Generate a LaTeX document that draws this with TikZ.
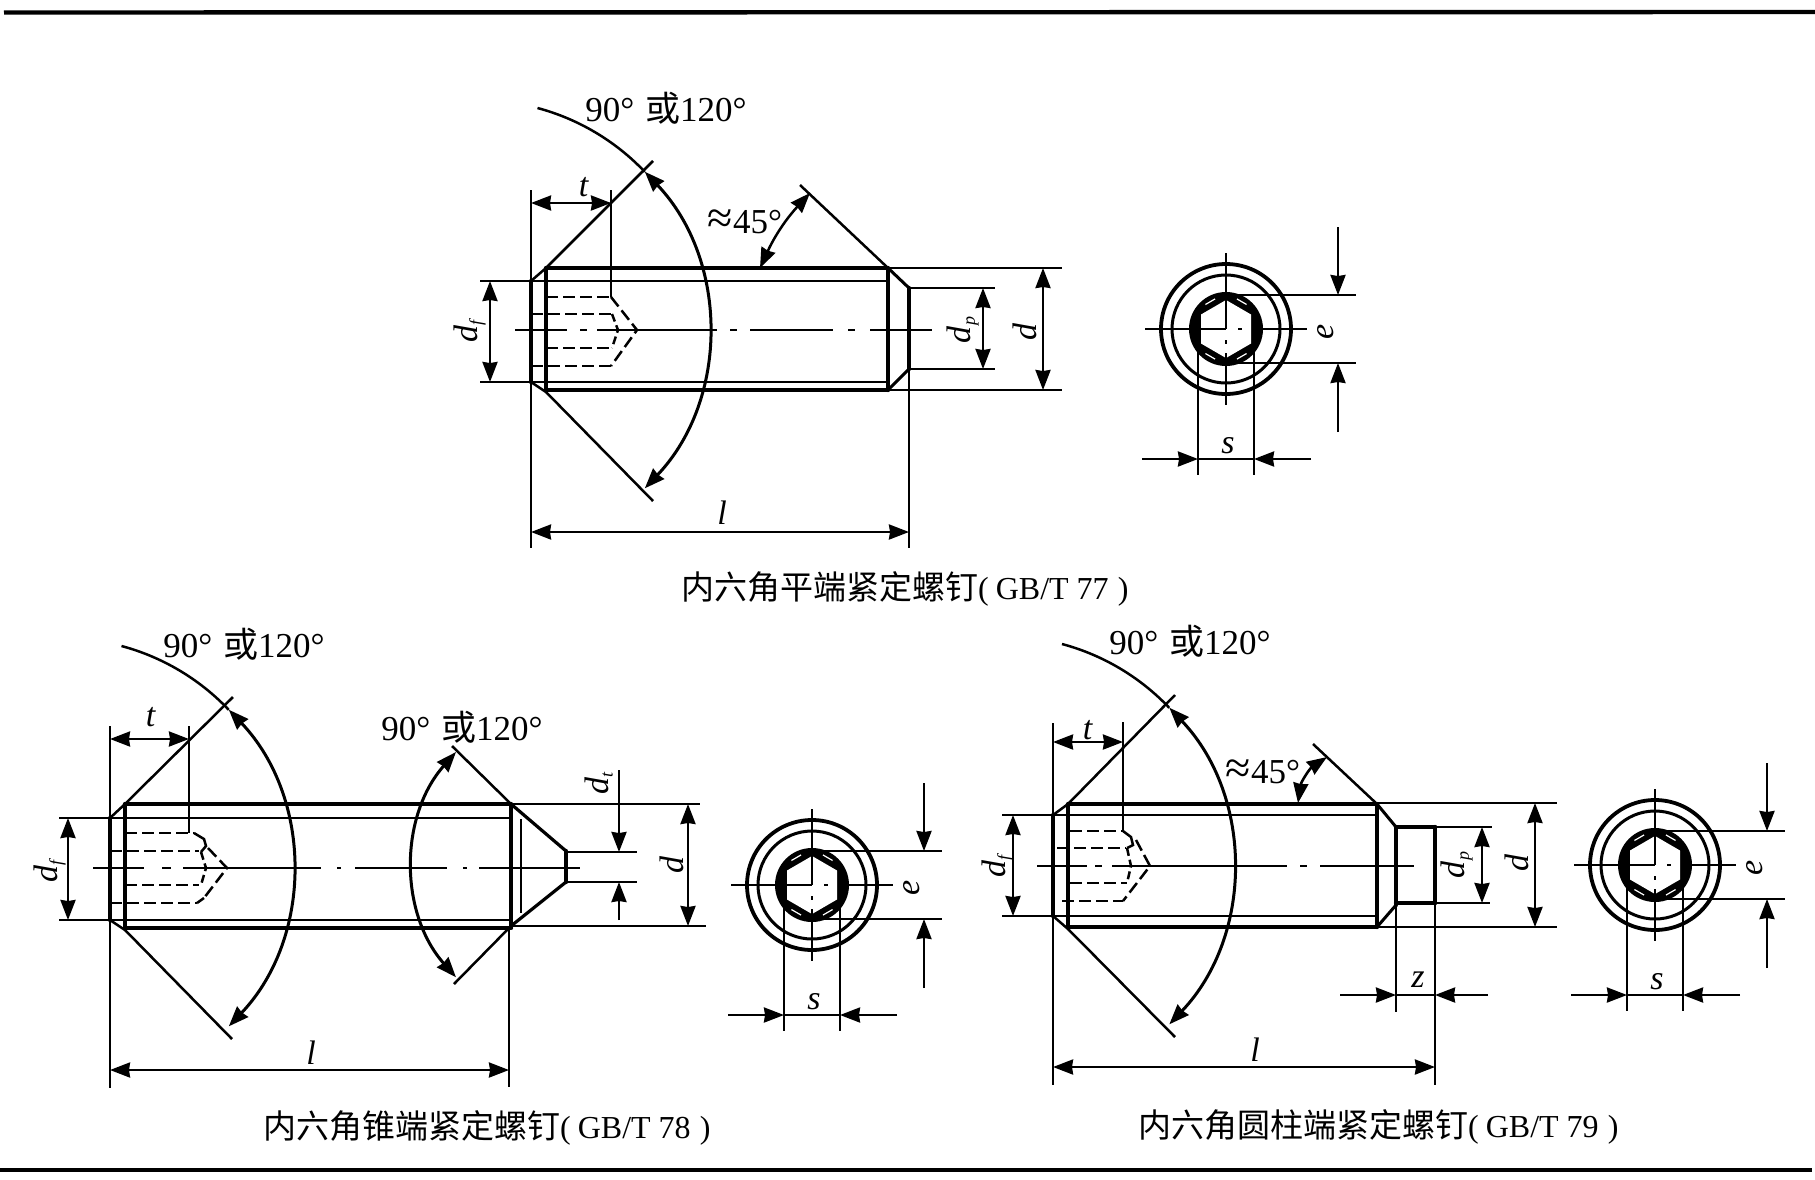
\documentclass[tikz,border=0pt]{standalone}
\usepackage{fontspec}
\setmainfont{Liberation Serif}
\newfontfamily\cjk{Noto Sans CJK SC}
\usetikzlibrary{arrows.meta}
\newcommand{\dsub}[1]{\textit{d}\raisebox{-4pt}{\fontsize{18}{18}\selectfont\textit{#1}}}
\newcommand{\angtxt}{90°\hspace{2pt} {\cjk 或}120°}
\newcommand{\apptxt}{{\fontsize{46}{46}\selectfont ≈}45°}
\newcommand{\capt}[2]{{\fontsize{33}{33}\selectfont\cjk #1}(\hspace{7pt}GB/T #2\hspace{9pt})}
\tikzset{
  x=1pt,y=-1pt,
  thinl/.style={line width=2.5pt,black},
  bold/.style={line width=4.4pt,black,line cap=round},
  hid/.style={line width=2.5pt,black,dash pattern=on 12pt off 5pt},
  rule/.style={line width=4.4pt,black},
  dimboth/.style={thinl,{Stealth[inset=1pt,length=20pt,width=15pt]}-{Stealth[inset=1pt,length=20pt,width=15pt]}},
  dimin/.style={thinl,-{Stealth[inset=1pt,length=20pt,width=15pt]}},
  lab/.style={font=\fontsize{34}{34}\selectfont,inner sep=0pt},
  anglab/.style={font=\fontsize{35}{35}\selectfont,inner sep=0pt},
  caption/.style={font=\fontsize{32}{32}\selectfont,inner sep=0pt,anchor=west},
}
% large arc centred on (#1,#2), with its plain tail and double arrow
\newcommand{\bigarc}[2]{%
  \draw[thinl] ({#1+59.5},{#2-222}) arc[start angle=75,end angle=43.5,radius=230pt];
  \draw[dimboth,line width=3pt] ({#1+166.8},{#2-158.3}) arc[start angle=43.5,end angle=-43.5,radius=230pt];
}
% end view: centre (#1,#2); #3 name suffix for labels
\newcommand{\headview}[3]{%
  \draw[line width=3.8pt] (#1,#2) circle[radius=65pt];
  \draw[line width=3pt] (#1,#2) circle[radius=54pt];
  \fill[black] (#1,#2) circle[radius=37pt];
  \fill[white] ({#1},{#2-29}) -- ({#1+25},{#2-14.5}) -- ({#1+25},{#2+14.5}) -- ({#1},{#2+29}) -- ({#1-25},{#2+14.5}) -- ({#1-25},{#2-14.5}) -- cycle;
  \foreach \a in {60,120,240,300}{\draw[white,line width=1.2pt] ({#1+32*cos(\a-10)},{#2-32*sin(\a-10)}) -- ({#1+32*cos(\a+10)},{#2-32*sin(\a+10)});}
  \draw[thinl] ({#1-81},#2) -- (#1,#2) ({#1+12},#2) -- ({#1+16},#2) ({#1+26},#2) -- ({#1+81},#2);
  \draw[thinl] (#1,{#2-76}) -- (#1,#2) (#1,{#2+11}) -- (#1,{#2+15}) (#1,{#2+24}) -- (#1,{#2+76});
  \draw[thinl] (#1,{#2-34}) -- ({#1+130},{#2-34}) (#1,{#2+34}) -- ({#1+130},{#2+34});
  \draw[dimin] ({#1+112},{#2-102}) -- ({#1+112},{#2-34});
  \draw[dimin] ({#1+112},{#2+103}) -- ({#1+112},{#2+34});
  \draw[thinl] ({#1-28},{#2+21}) -- ({#1-28},{#2+146}) ({#1+28},{#2+21}) -- ({#1+28},{#2+146});
  \draw[thinl] ({#1-28},{#2+130}) -- ({#1+28},{#2+130});
  \draw[dimin] ({#1-84},{#2+130}) -- ({#1-28},{#2+130});
  \draw[dimin] ({#1+85},{#2+130}) -- ({#1+28},{#2+130});
  \node[lab,rotate=90] (e#3) at ({#1+100},{#2+3}) {\textit{e}};
  \node[lab] (s#3) at ({#1+2},{#2+117}) {\textit{s}};
}
\begin{document}
\begin{tikzpicture}
\useasboundingbox (0,0) rectangle (1815,1179);
\fill[white] (0,0) rectangle (1815,1179);
\coordinate (ruleTL) at (4,12.5);
\coordinate (ruleTR) at (1815,12);
\coordinate (ruleBL) at (0,1170);
\coordinate (ruleBR) at (1812,1170);
\draw[rule] (ruleTL) -- (ruleTR);
\draw[rule] (ruleBL) -- (ruleBR);

%% ---------- top screw (GB/T 77)
\draw[thinl] (531,190) -- (531,548);
\draw[thinl] (653,161) -- (546,268) -- (531,281);
\draw[thinl] (653,501) -- (546,392) -- (531,382);
\draw[thinl] (480,281) -- (888,281) (480,382) -- (888,382);
\draw[bold] (531,281) -- (531,382);
\draw[bold] (546,268) -- (546,390) (546,268) -- (888,268) (546,390) -- (888,390) (888,268) -- (888,390);
\draw[line width=3pt] (888,268) -- (909,288) (888,390) -- (909,369);
\draw[bold] (909,288) -- (909,369);
\draw[thinl] (909,369) -- (909,548);
\draw[thinl] (888,268) -- (1062,268) (888,390) -- (1062,390);
\draw[thinl] (909,288) -- (995,288) (909,369) -- (995,369);
\foreach \a/\b in {515/567,580/587,597/717,730/737,750/833,848/855,870/932}{\draw[thinl] (\a,330) -- (\b,330);}
\draw[hid] (546,297) -- (611,297) (531,314) -- (611,314) (546,348) -- (611,348) (531,366) -- (611,366);
\draw[hid] (611,297) -- (637,330) -- (611,366);
\draw[hid,dash pattern=on 8pt off 4pt] (612,314) -- (618,330) -- (612,348);
\draw[thinl] (611,190) -- (611,297);
\bigarc{478}{330}
\draw[dimboth] (531,203) -- (611,203);
\draw[dimboth] (490,281) -- (490,382);
\draw[dimboth] (983,288) -- (983,369);
\draw[dimboth] (1043,268) -- (1043,390);
\draw[dimboth] (531,532) -- (909,532);
\draw[dimboth] (810,193) to[bend right=9] (760,268);
\draw[thinl] (888,268) -- (800,185);
\node[anglab] (angA) at (666,108) {\angtxt};
\node[anglab] (appA) at (745,222) {\apptxt};
\node[lab] (tA) at (584,187) {\textit{t}};
\node[lab] (lA) at (722,513) {\textit{l}};
\node[lab,rotate=90] (dfA) at (470,330) {\dsub{f}};
\node[lab,rotate=90] (dpA) at (963,330) {\dsub{p}};
\node[lab,rotate=90] (dA) at (1025,332) {\textit{d}};
\headview{1226}{329}{A}
\node[caption] (capA) at (681,589) {\capt{内六角平端紧定螺钉}{77}};

%% ---------- bottom-left screw (GB/T 78)
\draw[thinl] (110,726) -- (110,1088);
\draw[thinl] (233,697) -- (125,804) -- (110,818);
\draw[thinl] (232,1039) -- (125,930) -- (110,920);
\draw[thinl] (59,818) -- (509,818) (59,920) -- (509,920);
\draw[bold] (110,818) -- (110,920);
\draw[bold] (125,804) -- (125,928) (125,804) -- (511,804) (125,928) -- (511,928) (511,804) -- (511,926);
\draw[line width=3.2pt] (511,804) -- (566,851) (511,926) -- (566,882);
\draw[bold] (566,851) -- (566,882);
\draw[thinl] (511,804) -- (700,804) (511,926) -- (706,926);
\draw[thinl] (521,819) -- (521,913);
\draw[thinl] (566,852) -- (637,852) (566,882) -- (637,882);
\draw[thinl] (509,926) -- (509,1087);
\foreach \a/\b in {93/144,162/171,183/321,337/341,355/447,463/467,479/580}{\draw[thinl] (\a,868) -- (\b,868);}
\draw[hid] (125,833) -- (194,833) (110,851) -- (199,851) (125,885) -- (199,885) (110,903) -- (197,903);
\draw[thinl] (194,833) -- (204,839) -- (206,846) -- (201,852);
\draw[hid] (208,848) -- (227,868) -- (204,898) (204,898) -- (197,903);
\draw[hid,dash pattern=on 8pt off 4pt] (201,852) -- (206,868) -- (201,885);
\draw[thinl] (189,726) -- (189,833);
\bigarc{62}{868}
\draw[dimboth] (110,739) -- (189,739);
\draw[dimboth] (68,818) -- (68,920);
\draw[dimboth] (688,804) -- (688,926);
\draw[dimboth] (110,1070) -- (509,1070);
\draw[dimin] (619,770) -- (619,852);
\draw[dimin] (619,920) -- (619,882);
\draw[thinl] (511,804) -- (452,746);
\draw[thinl] (511,926) -- (454,984);
\draw[dimboth,line width=3pt] (456,752) arc[start angle=138.5,end angle=221.5,radius=170pt];
\node[anglab] (angB) at (244,644) {\angtxt};
\node[anglab] (angC) at (462,727) {\angtxt};
\node[lab] (tB) at (151,717) {\textit{t}};
\node[lab] (lB) at (311,1053) {\textit{l}};
\node[lab,rotate=90] (dfB) at (50,870) {\dsub{f}};
\node[lab,rotate=90] (dtB) at (599,783) {\dsub{t}};
\node[lab,rotate=90] (dB) at (672,865) {\textit{d}};
\headview{812}{885}{B}
\node[caption] (capB) at (263,1128) {\capt{内六角锥端紧定螺钉}{78}};

%% ---------- bottom-right screw (GB/T 79)
\draw[thinl] (1053,723) -- (1053,1085);
\draw[thinl] (1175,695) -- (1068,804) -- (1053,815);
\draw[thinl] (1175,1037) -- (1068,929) -- (1053,916);
\draw[thinl] (1002,815) -- (1377,815) (1002,916) -- (1377,916);
\draw[bold] (1053,815) -- (1053,916);
\draw[bold] (1068,804) -- (1068,927) (1068,804) -- (1377,804) (1068,927) -- (1377,927) (1377,804) -- (1377,927);
\draw[line width=3pt] (1377,804) -- (1396,827) (1377,927) -- (1396,905);
\draw[bold] (1396,827) -- (1396,905) (1396,827) -- (1435,827) (1396,903) -- (1435,903);
\draw[thinl] (1396,905) -- (1396,1012);
\draw[bold] (1435,827) -- (1435,903);
\draw[thinl] (1435,903) -- (1435,1085);
\draw[thinl] (1435,827) -- (1492,827) (1435,903) -- (1490,903);
\draw[thinl] (1377,803) -- (1557,803) (1377,927) -- (1557,927);
\foreach \a/\b in {1037/1087,1095/1102,1112/1287,1300/1307,1320/1414}{\draw[thinl] (\a,866) -- (\b,866);}
\draw[hid] (1070,831) -- (1123,831) (1057,848) -- (1126,848) (1070,883) -- (1127,883) (1062,901) -- (1123,901);
\draw[thinl] (1123,831) -- (1131,837) -- (1133,845) -- (1127,848);
\draw[hid] (1136,840) -- (1150,866) -- (1123,901);
\draw[hid,dash pattern=on 8pt off 4pt] (1127,848) -- (1131,866) -- (1127,883);
\draw[thinl] (1123,722) -- (1123,831);
\bigarc{1002.5}{866}
\draw[dimboth] (1053,742) -- (1123,742);
\draw[dimboth] (1013,815) -- (1013,916);
\draw[dimboth] (1482,827) -- (1482,903);
\draw[dimboth] (1535,803) -- (1535,927);
\draw[dimboth] (1053,1067) -- (1435,1067);
\draw[thinl] (1396,995) -- (1435,995);
\draw[dimin] (1340,995) -- (1396,995);
\draw[dimin] (1488,995) -- (1435,995);
\draw[thinl] (1377,804) -- (1313,744);
\draw[dimboth,line width=2.6pt] (1327,757) to[bend right=24] (1298,803);
\node[anglab] (angD) at (1190,641) {\angtxt};
\node[anglab] (appD) at (1263,772) {\apptxt};
\node[lab] (tD) at (1088,730) {\textit{t}};
\node[lab] (lD) at (1255,1050) {\textit{l}};
\node[lab] (zD) at (1418,980) {\textit{z}};
\node[lab,rotate=90] (dfD) at (998,865) {\dsub{f}};
\node[lab,rotate=90] (dpD) at (1457,865) {\dsub{p}};
\node[lab,rotate=90] (dD) at (1517,863) {\textit{d}};
\headview{1655}{865}{D}
\node[caption] (capD) at (1138,1127) {\capt{内六角圆柱端紧定螺钉}{79}};
\end{tikzpicture}
\end{document}
